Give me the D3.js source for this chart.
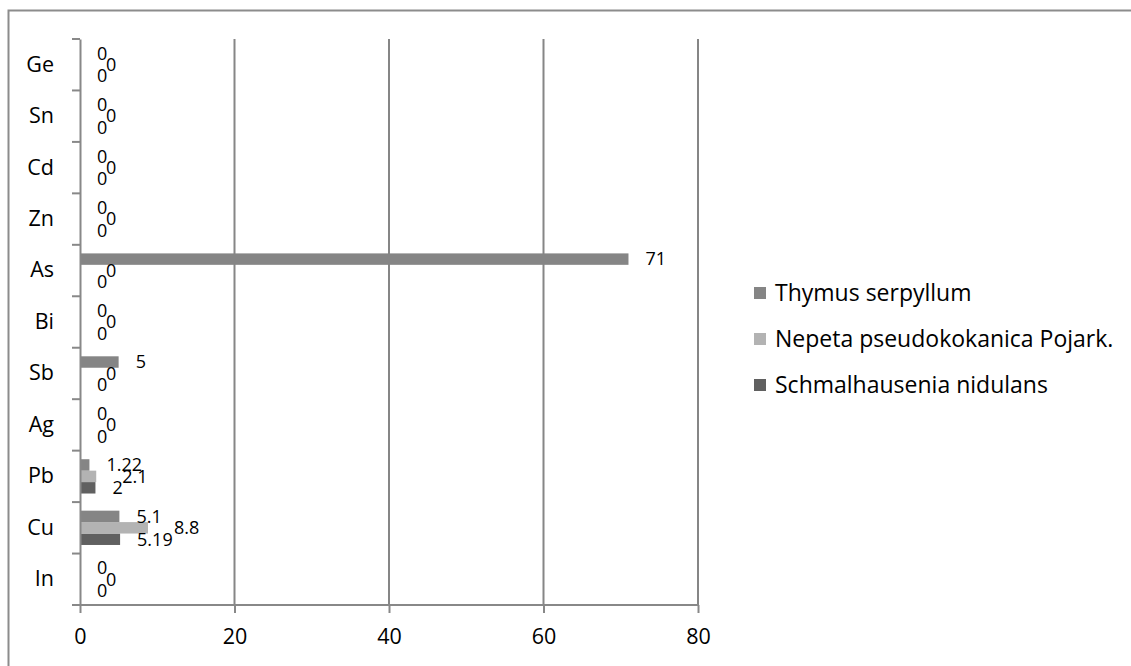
<!DOCTYPE html>
<html>
<head>
<meta charset="utf-8">
<script src="https://cdn.jsdelivr.net/npm/d3@7"></script>
<style>
  body { margin: 0; background: #fff; }
  svg text { font-family: "Open Sans", "Liberation Sans", sans-serif; fill: #000; }
</style>
</head>
<body>
<div id="chart"></div>
<script>
// カテゴリ（下から順）
const categories = ["In", "Cu", "Pb", "Ag", "Sb", "Bi", "As", "Zn", "Cd", "Sn", "Ge"];
// 系列名
const seriesNames = ["Schmalhausenia nidulans", "Nepeta pseudokokanica Pojark.", "Thymus serpyllum"];
// 系列ごとの値（categoriesと同じ順）
const schmalhauseniaValues = [0, 5.19, 2, 0, 0, 0, 0, 0, 0, 0, 0];
const nepetaValues = [0, 8.8, 2.1, 0, 0, 0, 0, 0, 0, 0, 0];
const thymusValues = [0, 5.1, 1.22, 0, 5, 0, 71, 0, 0, 0, 0];
const xTicks = [0, 20, 40, 60, 80];

const seriesValues = [schmalhauseniaValues, nepetaValues, thymusValues];
const colors = ["#606060", "#b3b3b3", "#858585"];

const W = 1131, H = 666;
const margin = {top: 39, left: 80, bottom: 605, right: 698};

const svg = d3.select("#chart").append("svg")
  .attr("width", W)
  .attr("height", H);

// 外枠
svg.append("rect")
  .attr("x", 8.5).attr("y", 10.5)
  .attr("width", W + 20).attr("height", H + 20)
  .attr("fill", "none")
  .attr("stroke", "#8c8c8c")
  .attr("stroke-width", 2);

// スケール
const x = d3.scaleLinear().domain([0, 80]).range([margin.left, margin.right]);
const y = d3.scaleBand()
  .domain(categories.slice().reverse())
  .range([margin.top, margin.bottom]);
// グループ内は上からThymus, Nepeta, Schmalhausenia
const ySub = d3.scaleBand()
  .domain([2, 1, 0])
  .range([0, y.bandwidth()])
  .paddingInner(0)
  .paddingOuter(0.75);

// グリッド線
svg.append("g")
  .selectAll("line")
  .data(xTicks.slice(1))
  .join("line")
  .attr("x1", d => x(d)).attr("x2", d => x(d))
  .attr("y1", margin.top).attr("y2", margin.bottom)
  .attr("stroke", "#868686")
  .attr("stroke-width", 2);

// 棒
const barData = [];
categories.forEach((c, i) => {
  seriesValues.forEach((vals, s) => {
    barData.push({cat: c, s: s, v: vals[i]});
  });
});

svg.append("g")
  .selectAll("rect")
  .data(barData.filter(d => d.v > 0))
  .join("rect")
  .attr("x", x(0))
  .attr("y", d => y(d.cat) + ySub(d.s))
  .attr("width", d => x(d.v) - x(0))
  .attr("height", ySub.bandwidth())
  .attr("fill", d => colors[d.s]);

// x軸
const xAxis = svg.append("g")
  .attr("transform", `translate(0,${margin.bottom})`)
  .call(d3.axisBottom(x).tickValues(xTicks).tickSize(8).tickSizeOuter(0).tickPadding(16));
// y軸
const yAxis = svg.append("g")
  .attr("transform", `translate(${margin.left},0)`)
  .call(d3.axisLeft(y).tickSize(0).tickPadding(26));

[xAxis, yAxis].forEach(a => {
  a.select(".domain").attr("stroke", "#888").attr("stroke-width", 2);
  a.selectAll(".tick line").attr("stroke", "#888").attr("stroke-width", 2);
  a.selectAll(".tick text").attr("font-size", 21.5).attr("fill", "#000");
});
xAxis.select(".domain").attr("d", `M${margin.left},0H${margin.right}`);

// y軸のカテゴリ境界の目盛り
svg.append("g")
  .selectAll("line")
  .data(categories.concat(["_top"]))
  .join("line")
  .attr("x1", margin.left - 8).attr("x2", margin.left)
  .attr("y1", d => d === "_top" ? margin.top : y(d) + y.bandwidth())
  .attr("y2", d => d === "_top" ? margin.top : y(d) + y.bandwidth())
  .attr("stroke", "#888")
  .attr("stroke-width", 2);

// データラベル
const labelSize = 18;
const labelOffset = 17;
const charW = labelSize * 0.55;
const labelG = svg.append("g");
categories.forEach((c, i) => {
  const items = [2, 1, 0].map(s => {
    const v = seriesValues[s][i];
    const txt = String(v);
    const x0 = x(v) + labelOffset;
    return {s, v, txt, x0, x1: x0 + txt.length * charW, cy: y(c) + ySub(s) + ySub.bandwidth() / 2};
  });
  // 中央の系列ラベルが重なる場合は右へずらす
  const mid = items[1];
  const overlap = o => o.x0 < mid.x1 && mid.x0 < o.x1;
  if (overlap(items[0]) || overlap(items[2])) mid.x0 += 9;
  items.forEach(d => {
    labelG.append("text")
      .attr("x", d.x0)
      .attr("y", d.cy)
      .attr("dy", "0.35em")
      .attr("font-size", labelSize)
      .text(d.txt);
  });
});

// 凡例
const legendItems = [2, 1, 0];
const legend = svg.append("g")
  .selectAll("g")
  .data(legendItems)
  .join("g")
  .attr("transform", (d, i) => `translate(754,${293 + i * 46})`);
legend.append("rect")
  .attr("x", 0).attr("y", -6)
  .attr("width", 12).attr("height", 12)
  .attr("fill", d => colors[d]);
legend.append("text")
  .attr("x", 21)
  .attr("y", 0)
  .attr("dy", "0.35em")
  .attr("font-size", 23)
  .text(d => seriesNames[d]);
</script>
</body>
</html>
